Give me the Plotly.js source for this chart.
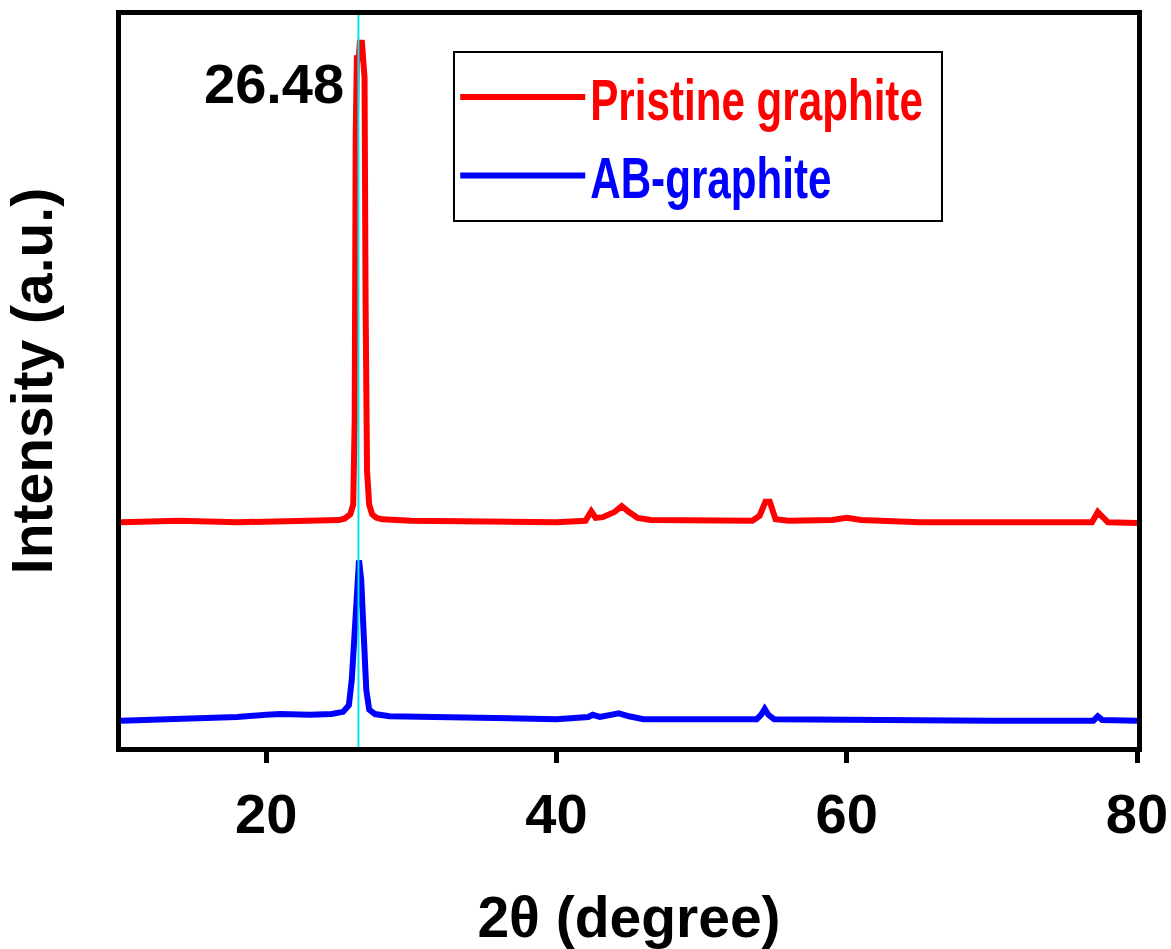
<!DOCTYPE html>
<html>
<head>
<meta charset="utf-8">
<script src="https://cdn.plot.ly/plotly-3.0.1.min.js"></script>
<style>html,body{margin:0;padding:0;background:#fff;}#plot{width:1171px;height:949px;}</style>
</head>
<body>
<div id="plot"></div>
<script>
// 2θ (degree) and intensity (a.u., offset as in the figure)
const pristineX = [10, 14, 18, 22, 24, 25, 25.4, 25.8, 26.0, 26.1, 26.17, 26.25, 26.38, 26.45, 26.6, 26.7, 26.78, 26.85, 26.95, 27.1, 27.3, 27.6, 28, 30, 35, 40, 42.0, 42.4, 42.7, 43.2, 44.0, 44.5, 45.0, 45.6, 46.5, 50, 53.5, 54.0, 54.4, 54.7, 55.1, 56, 59, 60, 61, 65, 70, 76.9, 77.3, 77.6, 78, 80];
const pristineY = [307, 309, 307, 309, 309, 310, 312, 318, 331, 447, 836, 941, 941, 962, 962, 914, 914, 611, 378, 331, 318, 313, 311, 309, 307, 307, 309, 322, 313, 314, 321, 329, 321, 313, 310, 309, 309, 316, 335, 335, 311, 309, 310, 313, 310, 307, 307, 307, 321, 316, 307, 306];

const abX = [10, 14, 18, 20, 21, 23, 24.5, 25.3, 25.7, 25.9, 26.05, 26.2, 26.3, 26.4, 26.55, 26.7, 26.9, 27.1, 27.5, 28.5, 32, 36, 40, 42.2, 42.5, 43, 44.3, 45, 46, 53.8, 54.1, 54.35, 54.6, 55, 60, 62, 70, 77.0, 77.3, 77.6, 80];
const abY = [36, 38, 41, 44, 45, 44, 45, 48, 57, 92, 146, 214, 253, 255, 228, 146, 78, 51, 45, 42, 41, 40, 38, 41, 44, 41, 46, 42, 38, 38, 44, 52, 44, 38, 37, 36, 36, 36, 42, 37, 36];

const seriesNames = ['Pristine graphite', 'AB-graphite'];
const seriesColors = ['#ff0000', '#0000ff'];
const xTicks = [20, 40, 60, 80];
const peakLabel = '26.48';
const peakPos = 26.36;

const FONT = 'Liberation Sans, Arial, sans-serif';

const traces = [
  {x: pristineX, y: pristineY, type: 'scatter', mode: 'lines',
   name: '<span style="color:' + seriesColors[0] + '">' + seriesNames[0] + '</span>',
   line: {color: seriesColors[0], width: 6}},
  {x: abX, y: abY, type: 'scatter', mode: 'lines',
   name: '<span style="color:' + seriesColors[1] + '">' + seriesNames[1] + '</span>',
   line: {color: seriesColors[1], width: 6}}
];

const layout = {
  width: 1171, height: 949,
  margin: {l: 121, r: 34, t: 15, b: 202},
  paper_bgcolor: '#fff', plot_bgcolor: '#fff',
  font: {family: FONT, color: '#000', weight: 'bold'},
  showlegend: true,
  legend: {
    x: 0.327, y: 0.951, xanchor: 'left', yanchor: 'top',
    bgcolor: '#fff', bordercolor: '#000', borderwidth: 2,
    font: {family: FONT, size: 58, weight: 'bold'},
    itemwidth: 125, tracegroupgap: 0
  },
  xaxis: {
    range: [10, 80], tickvals: xTicks, ticktext: xTicks.map(String),
    ticks: 'outside', ticklen: 11, tickwidth: 5, tickcolor: '#000',
    showline: true, linewidth: 5, linecolor: '#000', mirror: true,
    showgrid: false, zeroline: false,
    tickfont: {family: FONT, size: 56, weight: 'bold'},
    ticklabelstandoff: 3,
    title: {text: '2θ (degree)', font: {family: FONT, size: 57, weight: 'bold'}, standoff: 65}
  },
  yaxis: {
    range: [0, 1000], showticklabels: false, ticks: '',
    showline: true, linewidth: 5, linecolor: '#000', mirror: true,
    showgrid: false, zeroline: false,
    title: {text: 'Intensity (a.u.)', font: {family: FONT, size: 57, weight: 'bold'}, standoff: 50}
  },
  shapes: [
    {type: 'line', xref: 'x', yref: 'paper', x0: peakPos, x1: peakPos, y0: 0, y1: 1,
     line: {color: '#00e5ee', width: 2}}
  ],
  annotations: [
    {text: peakLabel, xref: 'x', yref: 'paper', x: peakPos, y: 0.907,
     xanchor: 'right', yanchor: 'middle', xshift: -12, showarrow: false,
     font: {family: FONT, size: 56, weight: 'bold', color: '#000'}}
  ]
};

Plotly.newPlot('plot', traces, layout, {displayModeBar: false, staticPlot: true}).then(function (gd) {
  // legend text in the reference is a condensed bold face: compress horizontally
  const s = 0.727;
  gd.querySelectorAll('.legend .legendtext').forEach(function (t) {
    const x = parseFloat(t.getAttribute('x')) || 0;
    t.setAttribute('transform', 'translate(' + (x * (1 - s)) + ',0) scale(' + s + ',1)');
  });
  const bg = gd.querySelector('.legend rect.bg');
  if (bg) bg.setAttribute('width', 488);
});
</script>
</body>
</html>
